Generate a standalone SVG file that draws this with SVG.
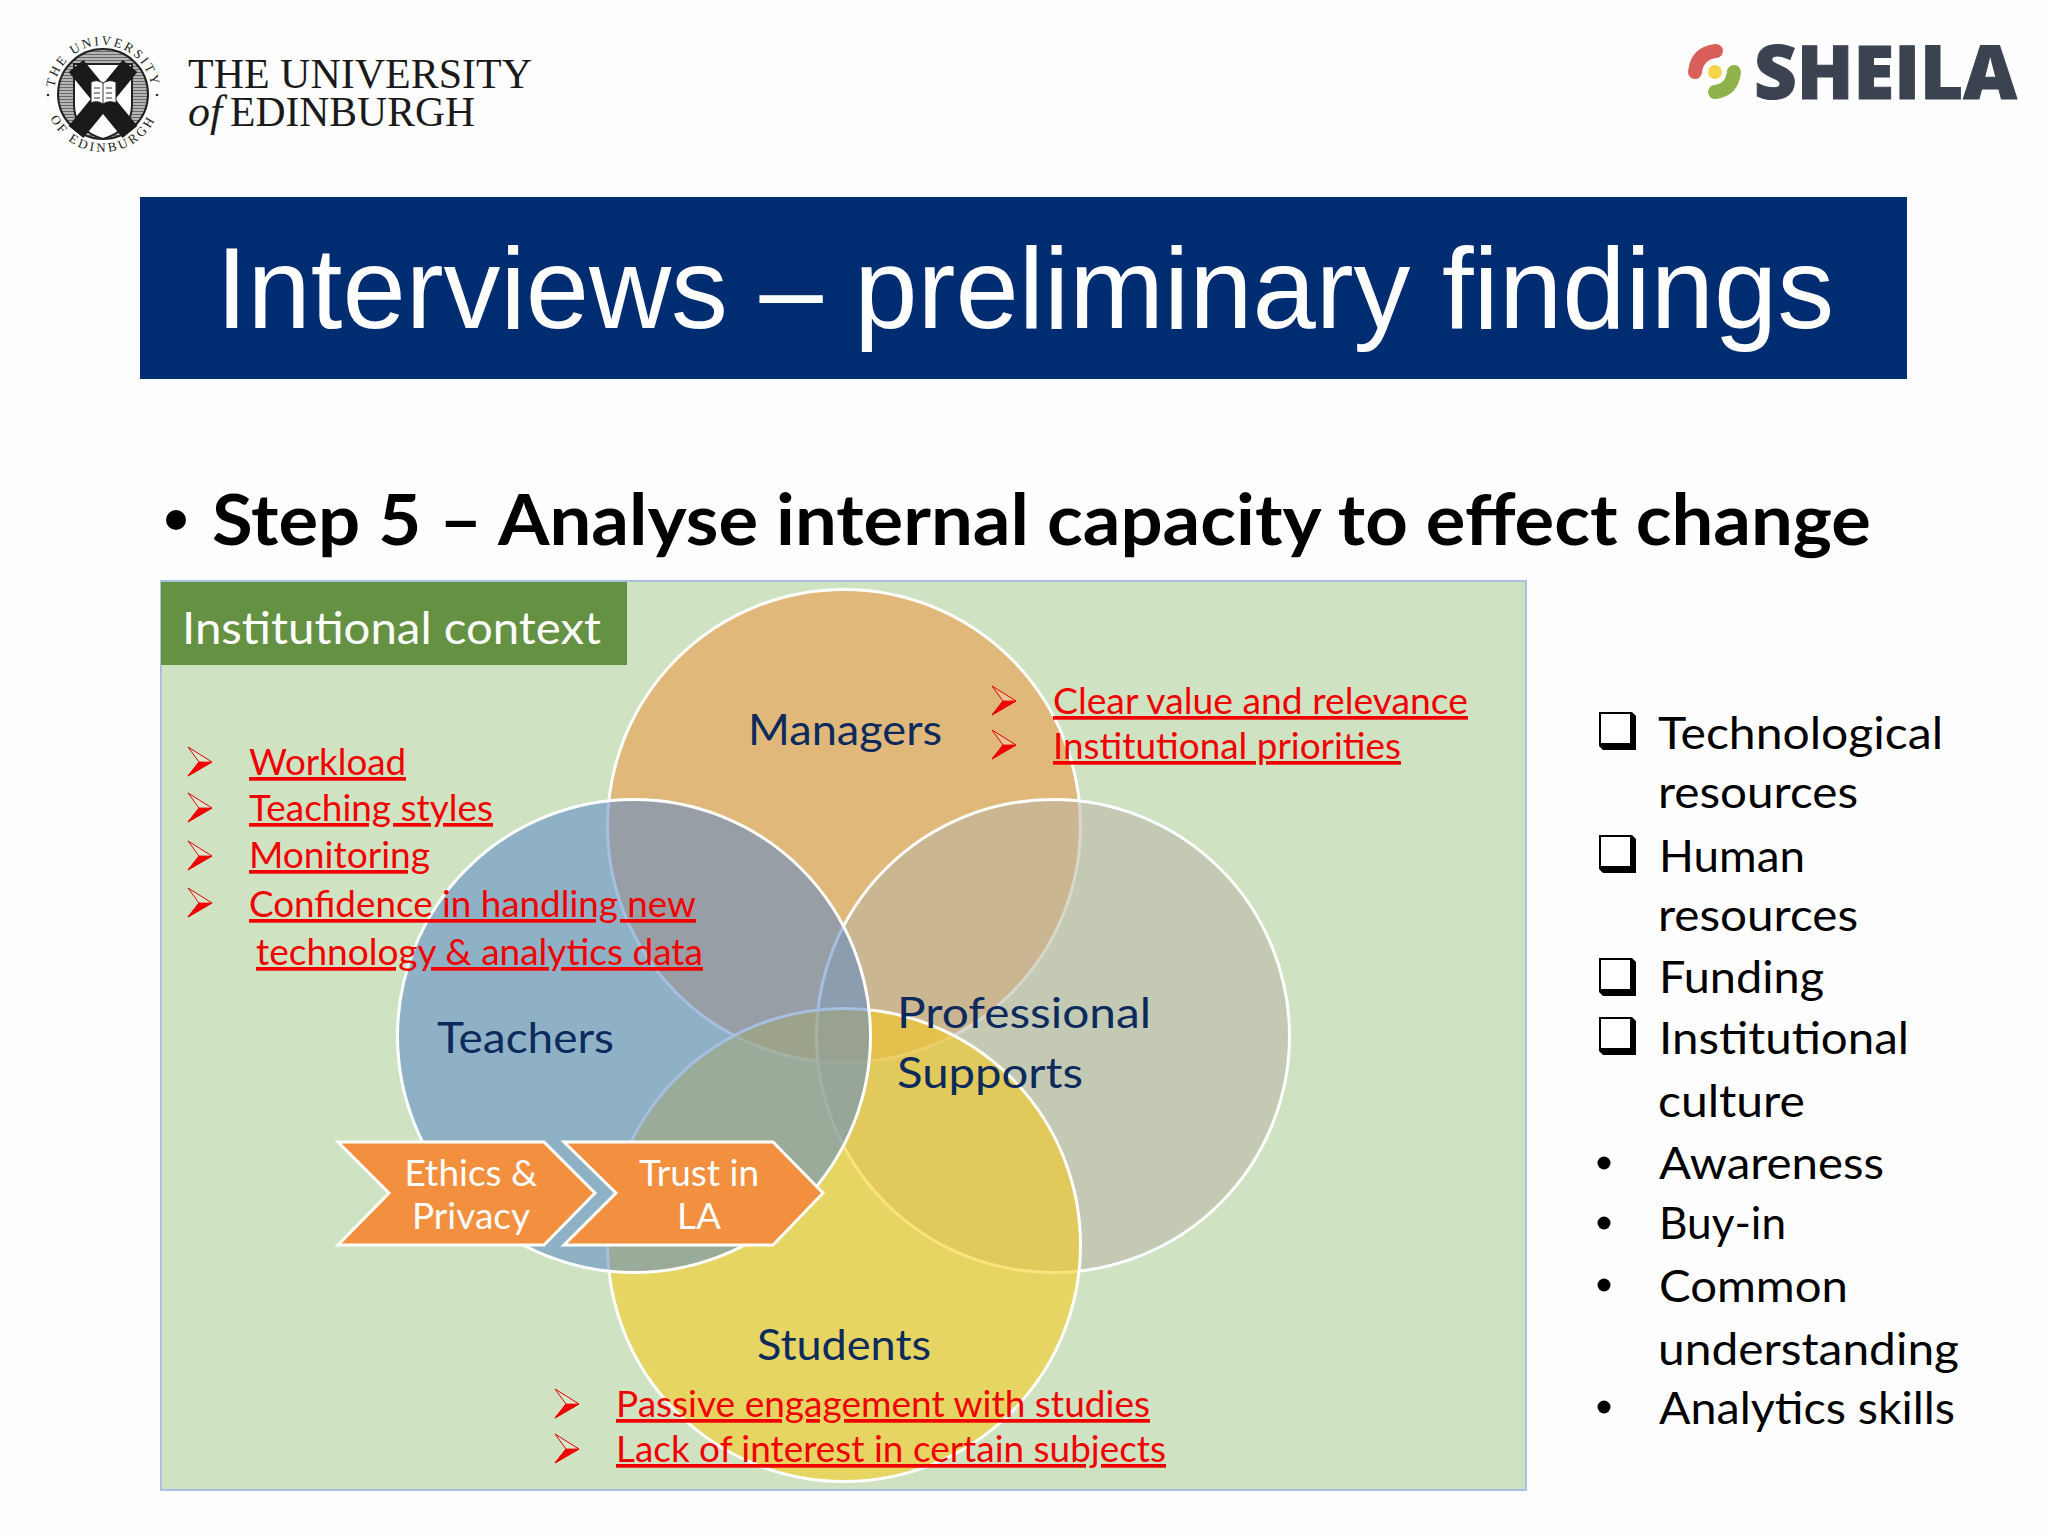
<svg xmlns="http://www.w3.org/2000/svg" xmlns:xlink="http://www.w3.org/1999/xlink" width="2048" height="1536" viewBox="0 0 2048 1536">
<style>
.c{font-family:Lato,"Liberation Sans",sans-serif}
.red{font-family:Lato,"Liberation Sans",sans-serif;font-size:37px;fill:#f00000;text-decoration:underline;text-decoration-thickness:3.5px;text-decoration-color:#f02a00}
.lab{font-family:Lato,"Liberation Sans",sans-serif;font-size:43px;fill:#0c2a5c}
.li{font-family:Lato,"Liberation Sans",sans-serif;font-size:44px;fill:#000}
.chev{font-family:Lato,"Liberation Sans",sans-serif;font-size:37px;fill:#fff;text-anchor:middle}
.cir{stroke:#fff;stroke-width:3;fill-opacity:.55}
.ser{font-family:"Liberation Serif",serif;fill:#1a1a1a}
</style>
<defs>
<g id="arr"><path d="M0 0L24 15 0 29 11 15Z" fill="#fff" fill-opacity=".2" stroke="#e00000" stroke-width="1"/><path d="M0 29L24 15H11Z" fill="#f00000" stroke="#f00000" stroke-width=".8"/></g>
<g id="box"><path d="M0 0H33L37 4V38H4L0 34Z" fill="#000"/><rect x="2" y="2" width="29" height="29" fill="#fff"/></g>
<path id="sealTop" d="M57 111A49 49 0 1 1 149 111"/>
<path id="sealBot" d="M45 94A58 58 0 0 0 161 94"/>
<pattern id="hatch" width="4" height="3" patternUnits="userSpaceOnUse"><rect width="4" height="3" fill="#b5b5b5"/><rect width="4" height="1" fill="#666"/></pattern>
</defs>
<rect width="2048" height="1536" fill="#fefefe"/>
<g id="edinburgh-logo">
<text class="ser" font-size="13" letter-spacing="2.4"><textPath href="#sealTop" startOffset="50%" text-anchor="middle">THE UNIVERSITY</textPath></text>
<text class="ser" font-size="13" letter-spacing="3"><textPath href="#sealBot" startOffset="50%" text-anchor="middle">OF EDINBURGH</textPath></text>
<circle cx="48" cy="95" r="1.3" fill="#333"/><circle cx="157" cy="95" r="1.3" fill="#333"/>
<circle cx="103" cy="94" r="45" fill="url(#hatch)" stroke="#222" stroke-width="2"/>
<path d="M74 64H132V105Q132 130 103 139Q74 130 74 105Z" fill="#fff" stroke="#222" stroke-width="2"/>
<path d="M76 66L130 132M130 66L76 132" stroke="#1a1a1a" stroke-width="19"/>
<path d="M91 82Q97 79 103 83Q109 79 116 82V103Q109 100 103 104Q97 100 91 103Z" fill="#fff" stroke="#222"/>
<path d="M103 83V104M94 88H100M94 93H100M94 98H100M106 88H112M106 93H112M106 98H112" stroke="#333" stroke-width="1"/>
<text class="ser" x="188" y="88" font-size="42" textLength="344" lengthAdjust="spacingAndGlyphs">THE UNIVERSITY</text>
<text class="ser" x="188" y="126" font-size="44" font-style="italic">of</text>
<text class="ser" x="230" y="126" font-size="42" textLength="245" lengthAdjust="spacingAndGlyphs">EDINBURGH</text>
</g>
<g id="sheila-logo">
<path d="M1716 51Q1697 53 1695 72" fill="none" stroke="#d9605a" stroke-width="14" stroke-linecap="round"/>
<path d="M1734 72Q1732 90 1715 92" fill="none" stroke="#8fb34a" stroke-width="14" stroke-linecap="round"/>
<circle cx="1715" cy="72" r="7" fill="#f2d548"/>
<text x="1754" y="99" font-family="'Open Sans',sans-serif" font-weight="800" font-size="75" fill="#3c4350" stroke="#3c4350" stroke-width="1" textLength="263" lengthAdjust="spacingAndGlyphs">SHEILA</text>
</g>
<g id="title">
<rect x="140" y="197" width="1767" height="182" fill="#002d72"/>
<text x="216" y="328" font-family="'Liberation Sans',Arial,sans-serif" font-size="115" fill="#fff" textLength="1618" lengthAdjust="spacingAndGlyphs">Interviews – preliminary findings</text>
</g>
<g id="subtitle">
<circle cx="176" cy="520" r="10" fill="#000"/>
<text class="c" x="212" y="545" font-size="70" font-weight="700" fill="#000" textLength="1659" lengthAdjust="spacingAndGlyphs">Step 5 – Analyse internal capacity to effect change</text>
</g>
<g id="panel">
<rect x="161" y="581" width="1365" height="909" fill="#cfe3c3" stroke="#a9c0e0" stroke-width="2"/>
<rect x="161" y="582" width="466" height="83" fill="#659142"/>
<text class="c" x="182" y="644" font-size="45" fill="#fff" textLength="419" lengthAdjust="spacingAndGlyphs">Institutional context</text>
</g>
<g id="venn">
<circle id="managers" class="cir" cx="844" cy="826" r="236.5" fill="#ee953e"/>
<circle id="professional" class="cir" cx="1053" cy="1036" r="236.5" fill="#b9b4a5"/>
<circle id="students" class="cir" cx="844" cy="1245" r="236.5" fill="#f9ca12"/>
<circle id="teachers" class="cir" cx="634" cy="1036" r="236.5" fill="#5b88c8"/>
</g>
<g id="venn-labels">
<text class="lab" x="748" y="745" textLength="194" lengthAdjust="spacingAndGlyphs">Managers</text>
<text class="lab" x="437" y="1053" textLength="177" lengthAdjust="spacingAndGlyphs">Teachers</text>
<text class="lab" x="897" y="1028" textLength="254" lengthAdjust="spacingAndGlyphs">Professional</text>
<text class="lab" x="897" y="1088" textLength="186" lengthAdjust="spacingAndGlyphs">Supports</text>
<text class="lab" x="757" y="1360" textLength="174" lengthAdjust="spacingAndGlyphs">Students</text>
</g>
<g id="chevrons">
<g id="ethics"><path d="M338 1142H544L595 1193 544 1245H338L389 1193Z" fill="#f29040" stroke="#fff" stroke-width="3"/>
<text class="chev" x="471" y="1186">Ethics &amp;</text><text class="chev" x="471" y="1229">Privacy</text></g>
<g id="trust"><path d="M564 1142H773L823 1193 773 1245H564L616 1193Z" fill="#f29040" stroke="#fff" stroke-width="3"/>
<text class="chev" x="699" y="1186">Trust in</text><text class="chev" x="699" y="1229">LA</text></g>
</g>
<g id="teacher-issues">
<use href="#arr" x="188" y="747"/><use href="#arr" x="188" y="793"/><use href="#arr" x="188" y="841"/><use href="#arr" x="188" y="888"/>
<text class="red" x="249" y="775" textLength="157" lengthAdjust="spacingAndGlyphs">Workload</text>
<text class="red" x="249" y="821" textLength="244" lengthAdjust="spacingAndGlyphs">Teaching styles</text>
<text class="red" x="249" y="868" textLength="181" lengthAdjust="spacingAndGlyphs">Monitoring</text>
<text class="red" x="249" y="917" textLength="447" lengthAdjust="spacingAndGlyphs">Confidence in handling new</text>
<text class="red" x="256" y="965" textLength="447" lengthAdjust="spacingAndGlyphs">technology &amp; analytics data</text>
</g>
<g id="manager-issues">
<use href="#arr" x="992" y="686"/><use href="#arr" x="992" y="730"/>
<text class="red" x="1053" y="714" textLength="415" lengthAdjust="spacingAndGlyphs">Clear value and relevance</text>
<text class="red" x="1053" y="759" textLength="348" lengthAdjust="spacingAndGlyphs">Institutional priorities</text>
</g>
<g id="student-issues">
<use href="#arr" x="555" y="1389"/><use href="#arr" x="555" y="1434"/>
<text class="red" x="616" y="1417" textLength="534" lengthAdjust="spacingAndGlyphs">Passive engagement with studies</text>
<text class="red" x="616" y="1462" textLength="550" lengthAdjust="spacingAndGlyphs">Lack of interest in certain subjects</text>
</g>
<g id="capacity-list">
<use href="#box" x="1599" y="712"/><use href="#box" x="1599" y="835"/><use href="#box" x="1599" y="958"/><use href="#box" x="1599" y="1017"/>
<circle cx="1604" cy="1163" r="6.5"/><circle cx="1604" cy="1223" r="6.5"/><circle cx="1604" cy="1285" r="6.5"/><circle cx="1604" cy="1407" r="6.5"/>
<text class="li" x="1658" y="749" textLength="285" lengthAdjust="spacingAndGlyphs">Technological</text>
<text class="li" x="1658" y="808" textLength="200" lengthAdjust="spacingAndGlyphs">resources</text>
<text class="li" x="1659" y="872" textLength="146" lengthAdjust="spacingAndGlyphs">Human</text>
<text class="li" x="1658" y="931" textLength="200" lengthAdjust="spacingAndGlyphs">resources</text>
<text class="li" x="1659" y="993" textLength="165" lengthAdjust="spacingAndGlyphs">Funding</text>
<text class="li" x="1659" y="1054" textLength="250" lengthAdjust="spacingAndGlyphs">Institutional</text>
<text class="li" x="1658" y="1117" textLength="147" lengthAdjust="spacingAndGlyphs">culture</text>
<text class="li" x="1659" y="1179" textLength="225" lengthAdjust="spacingAndGlyphs">Awareness</text>
<text class="li" x="1659" y="1239" textLength="127" lengthAdjust="spacingAndGlyphs">Buy-in</text>
<text class="li" x="1659" y="1302" textLength="189" lengthAdjust="spacingAndGlyphs">Common</text>
<text class="li" x="1658" y="1365" textLength="301" lengthAdjust="spacingAndGlyphs">understanding</text>
<text class="li" x="1659" y="1424" textLength="296" lengthAdjust="spacingAndGlyphs">Analytics skills</text>
</g>
</svg>
